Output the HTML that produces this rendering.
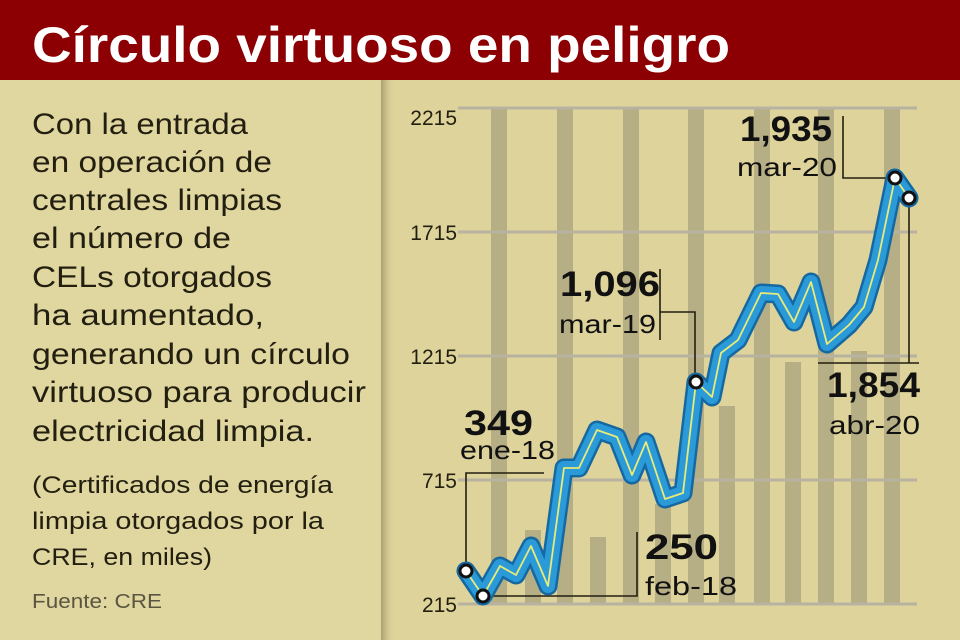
<!DOCTYPE html>
<html><head><meta charset="utf-8"><style>
html,body{margin:0;padding:0;width:960px;height:640px;overflow:hidden;background:#ddd39b}
svg{display:block}
text{font-family:"Liberation Sans",sans-serif}
</style></head><body>
<svg width="960" height="640" viewBox="0 0 960 640">
<defs>
<linearGradient id="sh" x1="0" x2="1"><stop offset="0" stop-color="#a89f70"/><stop offset="1" stop-color="#ddd39b" stop-opacity="0"/></linearGradient>
</defs>
<rect x="0" y="0" width="960" height="640" fill="#ddd39b"/>
<rect x="0" y="80" width="381" height="560" fill="#e0d6a0"/>
<rect x="381" y="80" width="14" height="560" fill="url(#sh)"/>
<rect x="0" y="0" width="960" height="80" fill="#8c0003"/>
<text x="32" y="62" font-size="50" font-weight="bold" fill="#fff" textLength="698" lengthAdjust="spacingAndGlyphs">Círculo virtuoso en peligro</text>

<g font-size="30" fill="#231f10">
<text x="32" y="134" textLength="216" lengthAdjust="spacingAndGlyphs">Con la entrada</text>
<text x="32" y="172" textLength="240" lengthAdjust="spacingAndGlyphs">en operación de</text>
<text x="32" y="210" textLength="250" lengthAdjust="spacingAndGlyphs">centrales limpias</text>
<text x="32" y="248" textLength="199" lengthAdjust="spacingAndGlyphs">el número de</text>
<text x="32" y="287" textLength="240" lengthAdjust="spacingAndGlyphs">CELs otorgados</text>
<text x="32" y="325" textLength="232" lengthAdjust="spacingAndGlyphs">ha aumentado,</text>
<text x="32" y="364" textLength="318" lengthAdjust="spacingAndGlyphs">generando un círculo</text>
<text x="32" y="402" textLength="334" lengthAdjust="spacingAndGlyphs">virtuoso para producir</text>
<text x="32" y="441" textLength="282" lengthAdjust="spacingAndGlyphs">electricidad limpia.</text>
</g>
<g font-size="24" fill="#231f10">
<text x="32" y="493" textLength="301" lengthAdjust="spacingAndGlyphs">(Certificados de energía</text>
<text x="32" y="529" textLength="292" lengthAdjust="spacingAndGlyphs">limpia otorgados por la</text>
<text x="32" y="565" textLength="180" lengthAdjust="spacingAndGlyphs">CRE, en miles)</text>
</g>
<text x="32" y="608" font-size="20" fill="#5a5540" textLength="130" lengthAdjust="spacingAndGlyphs">Fuente: CRE</text>

<!-- stripes -->
<g fill="#b6ae85">
<rect x="491" y="108" width="16" height="496"/>
<rect x="557" y="108" width="16" height="496"/>
<rect x="623" y="108" width="16" height="496"/>
<rect x="688" y="108" width="16" height="496"/>
<rect x="754" y="108" width="16" height="496"/>
<rect x="818" y="108" width="16" height="496"/>
<rect x="884" y="108" width="16" height="496"/>
<rect x="525" y="530" width="16" height="74"/>
<rect x="590" y="537" width="16" height="67"/>
<rect x="655" y="504" width="16" height="100"/>
<rect x="719" y="406" width="16" height="198"/>
<rect x="785" y="362" width="16" height="242"/>
<rect x="851" y="351" width="16" height="253"/>
</g>
<!-- grid -->
<g stroke="#b8b3a0" stroke-width="3">
<line x1="458" y1="108" x2="917" y2="108"/>
<line x1="458" y1="232" x2="917" y2="232"/>
<line x1="458" y1="356" x2="917" y2="356"/>
<line x1="458" y1="480" x2="917" y2="480"/>
<line x1="458" y1="604" x2="917" y2="604"/>
</g>
<g font-size="21" fill="#231f10" text-anchor="end">
<text x="457" y="125">2215</text>
<text x="457" y="240">1715</text>
<text x="457" y="364">1215</text>
<text x="457" y="488">715</text>
<text x="457" y="612">215</text>
</g>

<!-- leaders -->
<g stroke="#231f10" stroke-width="1.6" fill="none">
<polyline points="544,473 466,473 466,571"/>
<polyline points="637,532 637,596 483,596"/>
<polyline points="660,269 660,340"/>
<polyline points="660,312 695,312 695,382"/>
<polyline points="843,116 843,178 895,178"/>
<polyline points="818,363 919,363"/>
<polyline points="909,198 909,363"/>
</g>

<!-- series -->
<g fill="none" stroke-linejoin="round" stroke-linecap="round">
<polyline stroke="#1668a0" stroke-width="19" points="466,571 483,596 500,566 516,575 531,546 548,586 564,468 579,468 597,430 617,437 632,475 646,442 665,499 683,493 696,382 712,397 721,353 738,340 761,293 778,294 794,322 811,282 827,344 849,325 864,307 878,260 895,178 909,198"/>
<polyline stroke="#2a9ad8" stroke-width="14" points="466,571 483,596 500,566 516,575 531,546 548,586 564,468 579,468 597,430 617,437 632,475 646,442 665,499 683,493 696,382 712,397 721,353 738,340 761,293 778,294 794,322 811,282 827,344 849,325 864,307 878,260 895,178 909,198"/>
<polyline stroke="#eaea78" stroke-width="1.8" points="466,571 483,596 500,566 516,575 531,546 548,586 564,468 579,468 597,430 617,437 632,475 646,442 665,499 683,493 696,382 712,397 721,353 738,340 761,293 778,294 794,322 811,282 827,344 849,325 864,307 878,260 895,178 909,198"/>
</g>
<g fill="#fff" stroke="#111" stroke-width="3">
<circle cx="466" cy="571" r="6"/>
<circle cx="483" cy="596" r="6"/>
<circle cx="696" cy="382" r="6"/>
<circle cx="895" cy="178" r="6"/>
<circle cx="909" cy="198" r="6"/>
</g>

<!-- labels -->
<g fill="#111">
<text x="464" y="435" font-size="35" font-weight="bold" textLength="69" lengthAdjust="spacingAndGlyphs">349</text>
<text x="460" y="459" font-size="26" textLength="95" lengthAdjust="spacingAndGlyphs">ene-18</text>
<text x="645" y="559" font-size="35" font-weight="bold" textLength="73" lengthAdjust="spacingAndGlyphs">250</text>
<text x="645" y="595" font-size="26" textLength="92" lengthAdjust="spacingAndGlyphs">feb-18</text>
<text x="560" y="296" font-size="35" font-weight="bold" textLength="100" lengthAdjust="spacingAndGlyphs">1,096</text>
<text x="559" y="333" font-size="26" textLength="97" lengthAdjust="spacingAndGlyphs">mar-19</text>
<text x="740" y="141" font-size="35" font-weight="bold" textLength="92" lengthAdjust="spacingAndGlyphs">1,935</text>
<text x="737" y="176" font-size="26" textLength="100" lengthAdjust="spacingAndGlyphs">mar-20</text>
<text x="827" y="397" font-size="35" font-weight="bold" textLength="93" lengthAdjust="spacingAndGlyphs">1,854</text>
<text x="829" y="434" font-size="26" textLength="91" lengthAdjust="spacingAndGlyphs">abr-20</text>
</g>
</svg>
</body></html>
